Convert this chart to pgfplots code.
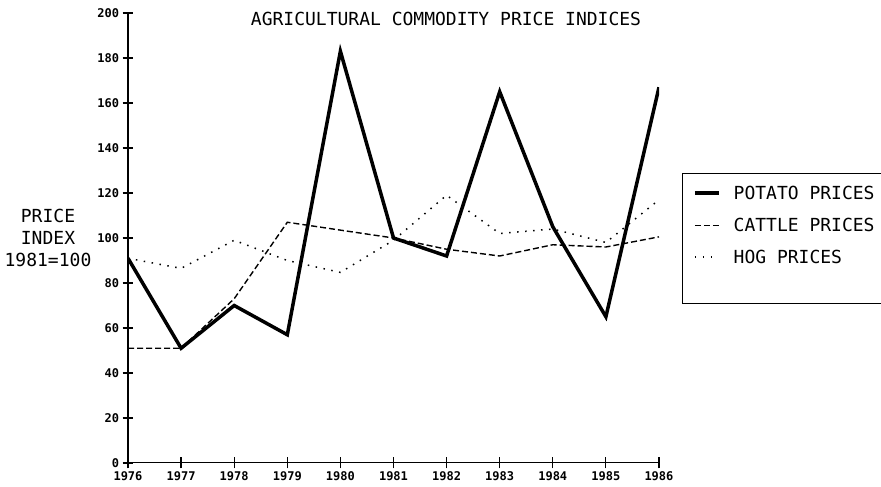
\documentclass[border=0pt]{standalone}
\usepackage{fontspec}
\setmonofont{DejaVu Sans Mono}
\usepackage{pgfplots}
\pgfplotsset{compat=1.18}

\begin{document}
\begin{tikzpicture}[x=1pt,y=1pt]
\useasboundingbox (-128,-24) rectangle (753,463);
\begin{axis}[
    scale only axis, width=531pt, height=450pt,
    xmin=1976, xmax=1986, ymin=0, ymax=200,
    axis lines=left, axis line style={-},
    x axis line style={line width=1pt},
    y axis line style={line width=1.8pt},
    xtick={1976,...,1986}, ytick={0,20,...,200},
    tick align=center, major tick length=11pt,
    tick style={line width=1.2pt, black},
    /pgf/number format/assume math mode=true,
    x tick label style={/pgf/number format/1000 sep=},
    ticklabel style={font=\ttfamily\bfseries\fontsize{12}{12}\selectfont},
    legend style={at={(1.064,0.6144)}, anchor=north west, draw=none, fill=none,
        inner sep=0pt, row sep=19pt, column sep=13pt,
        nodes={inner sep=0pt, text height=13pt, text depth=0pt},
        font=\ttfamily\fontsize{18}{18}\selectfont},
    legend cell align=left,
    legend image code/.code={\draw[#1] (0pt,0pt) -- (24pt,0pt);},
]
\addplot[black, line width=3.5pt, line join=miter] coordinates {
 (1976,91) (1977,51) (1978,70) (1979,57) (1980,183) (1981,100)
 (1982,92) (1983,165) (1984,105) (1985,65) (1986,167)};
\addlegendentry{POTATO PRICES}
\addplot[black, line width=1.4pt, dash pattern=on 6pt off 3pt] coordinates {
 (1976,51) (1977,51) (1978,73) (1979,107) (1980,103.5) (1981,100)
 (1982,95) (1983,92) (1984,97) (1985,96) (1986,100.5)};
\addlegendentry{CATTLE PRICES}
\addplot[black, line width=1.5pt, dash pattern=on 1.5pt off 6.5pt] coordinates {
 (1976,91) (1977,86.5) (1978,99) (1979,90) (1980,84.7) (1981,99)
 (1982,119) (1983,102) (1984,104) (1985,98) (1986,117)};
\addlegendentry{HOG PRICES}
\end{axis}
\node[font=\ttfamily\fontsize{18}{18}\selectfont] at (318,444) {AGRICULTURAL COMMODITY PRICE INDICES};
\node[font=\ttfamily\fontsize{18}{22}\selectfont, align=center] at (-80,225) {PRICE\\INDEX\\1981=100};
\draw[line width=1pt] (554,289) rectangle (800,159);
\end{tikzpicture}
\end{document}
